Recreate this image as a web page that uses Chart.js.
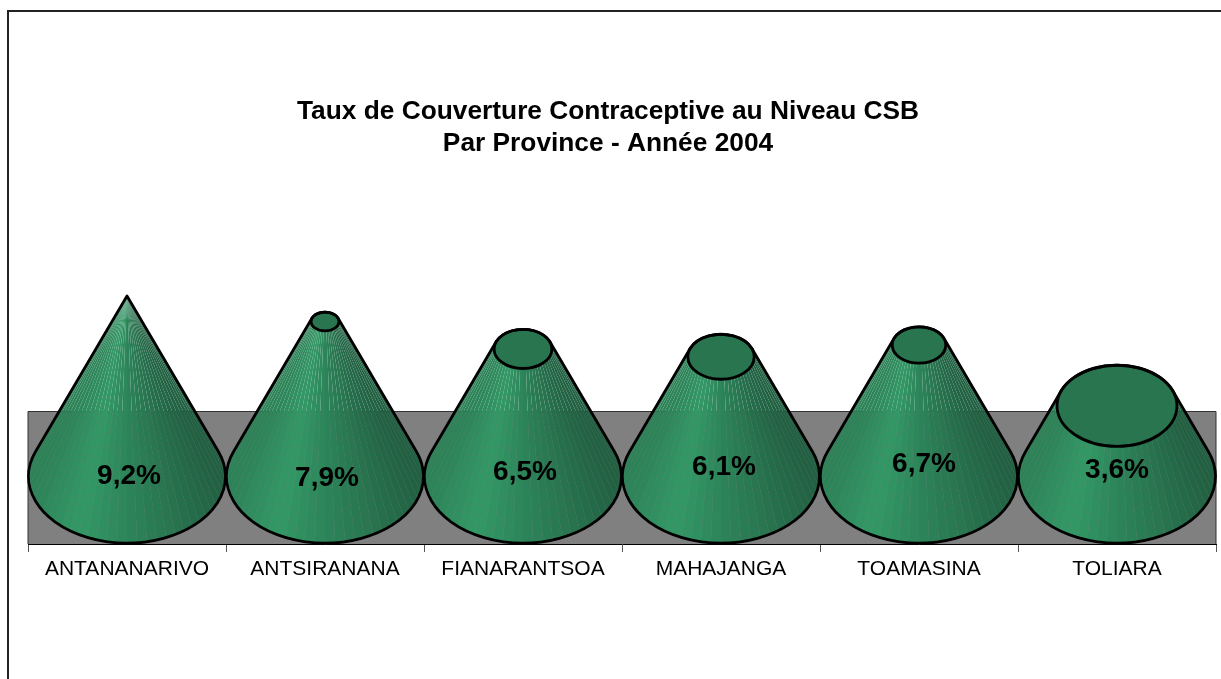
<!DOCTYPE html>
<html>
<head>
<meta charset="utf-8">
<style>html,body{margin:0;padding:0;background:#fff;overflow:hidden}canvas{display:block}</style>
<script src="https://cdn.jsdelivr.net/npm/chart.js@4"></script>
</head>
<body>
<canvas id="c" width="1221" height="679"></canvas>
<script>
const categories = ['ANTANANARIVO','ANTSIRANANA','FIANARANTSOA','MAHAJANGA','TOAMASINA','TOLIARA'];
const coverage = [9.2, 7.9, 6.5, 6.1, 6.7, 3.6];
const titleLines = ['Taux de Couverture Contraceptive au Niveau CSB','Par Province - Année 2004'];

const FONT = '"Liberation Sans", Arial, sans-serif';
const AXIS_MIN = -3.45, AXIS_MAX = 9.2, WALL_TOP = 3.32, FACETS = 38;
const LABEL_DX = [2, 2, 2, 3, 5, 0];
const LABEL_DY = [0, 2, -4, -9, -12, -6];

function shade(u){ // u = -1 (left) .. 1 (right)
  const s = [[-1,[45,130,88]],[-0.5,[51,153,102]],[0,[45,133,90]],[0.5,[40,116,79]],[1,[33,96,66]]];
  for(let i=0;i<s.length-1;i++){
    if(u<=s[i+1][0]){
      const t=(u-s[i][0])/(s[i+1][0]-s[i][0]);
      const c=s[i][1].map((v,k)=>Math.round(v+(s[i+1][1][k]-v)*t));
      return `rgb(${c[0]},${c[1]},${c[2]})`;
    }
  }
  return 'rgb(33,96,66)';
}

const conePlugin = {
  id:'cones',
  beforeDraw(chart){
    const g=chart.ctx;
    g.save();g.fillStyle='#fff';g.fillRect(0,0,chart.width,chart.height);
    g.strokeStyle='#222';g.lineWidth=2;g.beginPath();g.moveTo(8,chart.height);g.lineTo(8,11);g.lineTo(chart.width,11);g.stroke();
    g.restore();
  },
  beforeDatasetsDraw(chart){
    const g=chart.ctx, a=chart.chartArea, y=chart.scales.y;
    const top=Math.round(y.getPixelForValue(WALL_TOP))+0.5;
    g.save();g.fillStyle='#808080';g.strokeStyle='#333';g.lineWidth=1;
    g.fillRect(a.left,top,a.right-a.left,a.bottom-top);
    g.beginPath();g.moveTo(a.left,a.bottom);g.lineTo(a.left,top);g.lineTo(a.right,top);g.lineTo(a.right,a.bottom);g.stroke();
    g.restore();
  },
  afterDatasetsDraw(chart){
    const g=chart.ctx, y=chart.scales.y, meta=chart.getDatasetMeta(0);
    const peak=y.getPixelForValue(AXIS_MAX);
    meta.data.forEach((el,i)=>{
      const cx=el.x, cy=el.base, tipY=el.y;
      const ra=el.width/2-0.5, rb=y.getPixelForValue(AXIS_MIN)-cy-1;
      const H=cy-peak, k=(cy-tipY)/H, ta=ra*(1-k), tb=rb*(1-k);
      const alpha=Math.asin(Math.min(1,rb/H));
      const start=-alpha, end=Math.PI+alpha;
      const P=(t)=>[cx+ra*Math.cos(t),cy+rb*Math.sin(t)];
      const Q=(t)=>[cx+ta*Math.cos(t),tipY+tb*Math.sin(t)];
      g.save();
      for(let f=0;f<FACETS;f++){
        const t0=start+(end-start)*f/FACETS, t1=start+(end-start)*(f+1)/FACETS;
        const m=(t0+t1)/2, p0=P(t0),q0=Q(t0),q1=Q(t1);
        g.fillStyle=shade(Math.cos(m));
        g.beginPath();g.moveTo(p0[0],p0[1]);
        for(let s=1;s<=4;s++){const pt=P(t0+(t1-t0)*s/4);g.lineTo(pt[0],pt[1]);}
        g.lineTo(q1[0],q1[1]);g.lineTo(q0[0],q0[1]);g.closePath();g.fill();
      }
      // top cap
      if(k<1){
        g.fillStyle='#29754f';
        g.beginPath();g.ellipse(cx,tipY,ta,tb,0,0,Math.PI*2);g.fill();
      }
      // outline
      g.strokeStyle='#000';g.lineWidth=2.8;g.lineJoin='round';
      g.beginPath();g.ellipse(cx,cy,ra,rb,0,start,end);
      const qe=Q(end),qs=Q(start);
      g.lineTo(qe[0],qe[1]);
      if(k<1){g.ellipse(cx,tipY,ta,tb,0,end,start+Math.PI*2);}
      g.lineTo(qs[0],qs[1]);
      g.closePath();g.stroke();
      if(k<1){g.beginPath();g.ellipse(cx,tipY,ta,tb,0,0,Math.PI*2);g.stroke();}
      // value label
      g.fillStyle='#000';g.font='bold 28px '+FONT;g.textAlign='center';g.textBaseline='middle';
      g.fillText(coverage[i].toFixed(1).replace('.',',')+'%',cx+LABEL_DX[i],cy+LABEL_DY[i]);
      g.restore();
    });
  }
};

new Chart(document.getElementById('c'),{
  type:'bar',
  data:{labels:categories,datasets:[{data:coverage,backgroundColor:'rgba(0,0,0,0)',borderWidth:0,barPercentage:1,categoryPercentage:1}]},
  options:{
    responsive:false,animation:false,
    layout:{padding:{left:0,right:5,top:0,bottom:0}},
    plugins:{
      legend:{display:false},tooltip:{enabled:false},
      title:{display:true,text:titleLines,color:'#000',font:{family:FONT,size:26.3,weight:'bold',lineHeight:32/26.3},padding:{top:96,bottom:136}}
    },
    scales:{
      x:{
        ticks:{color:'#000',font:{family:FONT,size:21},padding:5,maxRotation:0,autoSkip:false},
        grid:{drawOnChartArea:false,drawTicks:true,tickLength:8,color:'#555',offset:true},
        border:{display:true,color:'#000',width:1},
        afterFit(s){s.height=135;}
      },
      y:{
        min:AXIS_MIN,max:AXIS_MAX,
        ticks:{display:false},grid:{display:false},border:{display:false},
        afterFit(s){s.width=28;}
      }
    }
  },
  plugins:[conePlugin]
});
</script>
</body>
</html>
